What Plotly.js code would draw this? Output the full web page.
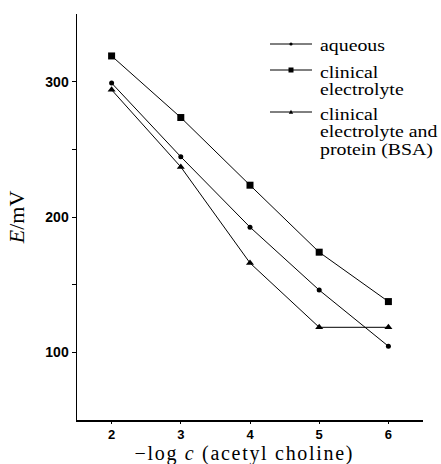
<!DOCTYPE html>
<html>
<head>
<meta charset="utf-8">
<script src="https://cdn.plot.ly/plotly-3.0.1.min.js"></script>
<style>
html,body{margin:0;padding:0;background:#fff;}
#chart{width:441px;height:464px;}
#chart .annotation[data-index="0"] .annotation-text{letter-spacing:1.7px;}
#chart .annotation:not([data-index="0"]) .annotation-text{
  transform-box:fill-box; transform-origin:left center; transform:scaleX(1.24);
}
</style>
</head>
<body>
<div id="chart"></div>
<script>
// -log c (acetyl choline)
const logC = [2, 3, 4, 5, 6];
// E / mV
const aqueous = [299, 244.5, 192.5, 146, 104.5];
const clinicalElectrolyte = [319, 273.5, 223.5, 174, 137.5];
const electrolyteProtein = [294, 237, 166, 118.5, 118.5];

const seriesNames = ['aqueous', 'clinical electrolyte', 'clinical electrolyte and protein (BSA)'];
// legend text, as it is wrapped in the picture
const legendLines = [['aqueous'], ['clinical', 'electrolyte'], ['clinical', 'electrolyte and', 'protein (BSA)']];
const yTickVals = [100, 150, 200, 250, 300];
const yTickText = ['100', '', '200', '', '300'];
const xTickVals = [2, 3, 4, 5, 6];
const xTitle = '\u2212log <i>c</i> (acetyl choline)';
const yTitle = '<i>E</i>/mV';

const serif = 'Liberation Serif';
const sans = 'Liberation Sans';

const symbols = ['circle', 'square', 'triangle-up'];
const markerSizes = [5, 7, 7];
const seriesData = [aqueous, clinicalElectrolyte, electrolyteProtein];

const traces = seriesData.map((ys, i) => ({
  x: logC, y: ys, name: seriesNames[i], mode: 'lines+markers', showlegend: false,
  line: {color: '#000', width: 1},
  marker: {symbol: symbols[i], size: markerSizes[i], color: '#000'}
}));

const plotL = 77, plotT = 14, plotW = 346, plotH = 406;
const px2x = p => (p - plotL) / plotW;
const py2y = p => (plotT + plotH - p) / plotH;

const shapes = [];
// x-axis title (annotation 0), sits at the bottom edge under the tick labels
const annotations = [{xref: 'paper', yref: 'paper', x: px2x(153), y: py2y(465.5),
  xanchor: 'left', yanchor: 'bottom', showarrow: false, text: xTitle, borderpad: 0,
  font: {family: serif, size: 20, color: '#000'}}];

// hand-laid legend (the picture's legend has tight, wrapped lines)
const entryTop = [46, 72, 114];   // pixel centre of first text line
const lineGap = 17.8;
legendLines.forEach((lines, i) => {
  const ly = py2y(entryTop[i] - 2);
  shapes.push({type: 'line', xref: 'paper', yref: 'paper', x0: px2x(270), x1: px2x(312), y0: ly, y1: ly,
               line: {color: '#000', width: 1}});
  const cx = px2x(291);
  if (symbols[i] === 'circle') {
    shapes.push({type: 'circle', xref: 'paper', yref: 'paper', xsizemode: 'pixel', ysizemode: 'pixel',
                 xanchor: cx, yanchor: ly, x0: -1.6, x1: 1.6, y0: -1.6, y1: 1.6,
                 fillcolor: '#000', line: {width: 0}});
  } else if (symbols[i] === 'square') {
    shapes.push({type: 'rect', xref: 'paper', yref: 'paper', xsizemode: 'pixel', ysizemode: 'pixel',
                 xanchor: cx, yanchor: ly, x0: -2.5, x1: 2.5, y0: -2.5, y1: 2.5,
                 fillcolor: '#000', line: {width: 0}});
  } else {
    shapes.push({type: 'path', xref: 'paper', yref: 'paper', xsizemode: 'pixel', ysizemode: 'pixel',
                 xanchor: cx, yanchor: ly, path: 'M-2.2,-1.8L2.2,-1.8L0,2.2Z',
                 fillcolor: '#000', line: {width: 0}});
  }
  lines.forEach((t, j) => {
    annotations.push({xref: 'paper', yref: 'paper', x: px2x(319), y: py2y(entryTop[i] + j * lineGap),
                      xanchor: 'left', yanchor: 'middle', showarrow: false, text: t, borderpad: 0,
                      font: {family: serif, size: 16, color: '#000'}});
  });
});

const layout = {
  width: 441, height: 464,
  margin: {l: plotL, r: 441 - plotL - plotW, t: plotT, b: 464 - plotT - plotH},
  paper_bgcolor: '#fff', plot_bgcolor: '#fff',
  showlegend: false,
  shapes: shapes,
  annotations: annotations,
  xaxis: {range: [1.5, 6.5], tickvals: xTickVals, showgrid: false, zeroline: false,
          showline: true, linecolor: '#000', linewidth: 1.5, ticks: 'outside', ticklen: 2,
          tickcolor: '#000', tickfont: {family: sans, size: 13, color: '#000', weight: 'bold'}},
  yaxis: {range: [50, 350], tickvals: yTickVals, ticktext: yTickText, showgrid: false, zeroline: false,
          showline: true, linecolor: '#000', linewidth: 1.5, ticks: 'outside', ticklen: 4,
          tickcolor: '#000', tickfont: {family: sans, size: 14, color: '#000', weight: 'bold'},
          title: {text: yTitle, standoff: 14,
                  font: {family: serif, size: 22, color: '#000'}}}
};

Plotly.newPlot('chart', traces, layout, {displayModeBar: false, staticPlot: true});
</script>
</body>
</html>
